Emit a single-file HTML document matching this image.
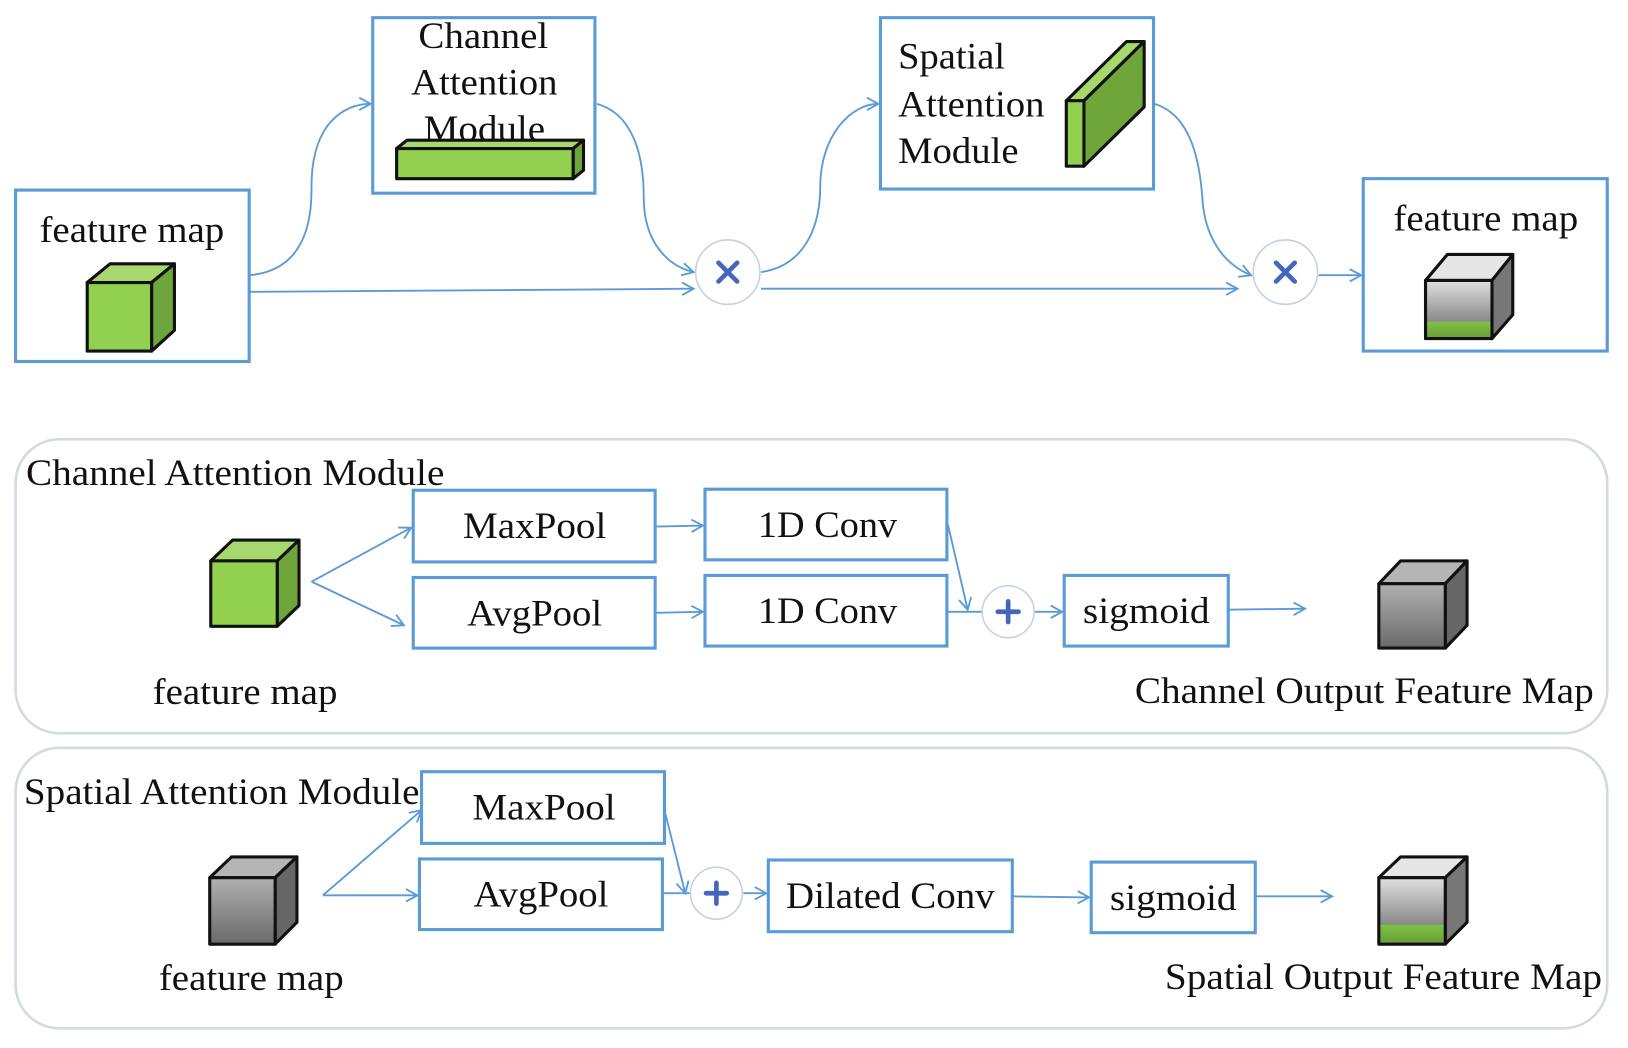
<!DOCTYPE html>
<html><head><meta charset="utf-8"><style>
html,body{margin:0;padding:0;background:#fff;}
svg{display:block;}
text{font-family:"Liberation Serif",serif;fill:#111;}
</style></head><body>
<svg width="1628" height="1048" viewBox="0 0 1568 1009" preserveAspectRatio="none" xmlns="http://www.w3.org/2000/svg">
<defs>
<marker id="a" markerWidth="14" markerHeight="14" refX="12" refY="7" orient="auto" markerUnits="userSpaceOnUse">
<path d="M1,1 L12,7 L1,13" fill="none" stroke="#5b9bd5" stroke-width="1.8"/>
</marker>
<linearGradient id="gg" x1="0" y1="0" x2="0" y2="1"><stop offset="0" stop-color="#e0e0e0"/><stop offset="0.7" stop-color="#8a8a8a"/><stop offset="0.72" stop-color="#7cc242"/><stop offset="1" stop-color="#6a9a3a"/></linearGradient>
<linearGradient id="gr" x1="0" y1="0" x2="0" y2="1"><stop offset="0" stop-color="#b0b0b0"/><stop offset="1" stop-color="#6a6a6a"/></linearGradient>
</defs>
<g fill="none" stroke="#5b9bd5" stroke-width="3">
<rect x="15" y="183" width="225" height="165"/>
<rect x="359" y="17" width="214" height="169"/>
<rect x="848" y="17" width="263" height="165"/>
<rect x="1313" y="172" width="235" height="166"/>
<rect x="398" y="472" width="233" height="69"/>
<rect x="398" y="556" width="233" height="68"/>
<rect x="679" y="471" width="233" height="68"/>
<rect x="679" y="554" width="233" height="68"/>
<rect x="1025" y="554" width="158" height="68"/>
<rect x="406" y="743" width="234" height="69"/>
<rect x="404" y="827" width="234" height="68"/>
<rect x="740" y="828" width="235" height="69"/>
<rect x="1051" y="830" width="158" height="68"/>
</g>
<g fill="none" stroke="#d3dae3" stroke-width="2.5">
<rect x="15" y="423" width="1533" height="283" rx="42"/>
<rect x="15" y="720" width="1533" height="270" rx="42"/>
</g>
<g fill="none" stroke="#5b9bd5" stroke-width="1.8" marker-end="url(#a)">
<path d="M240,265 C300,260 300,200 300,180 C300,120 330,100 357,100"/>
<path d="M240,281 L668,278"/>
<path d="M575,100 C610,110 620,150 620,190 C620,230 640,255 668,262"/>
<path d="M733,262 C780,255 790,210 790,180 C790,130 820,100 846,100"/>
<path d="M733,278 L1192,278"/>
<path d="M1112,100 C1145,110 1155,150 1158,190 C1160,230 1180,255 1205,265"/>
<path d="M1270,265 L1311,265"/>
<path d="M300,560 L396,508"/>
<path d="M300,560 L389,602"/>
<path d="M632,507 L677,506"/>
<path d="M632,590 L677,589"/>
<path d="M913,505 L932,587"/>
<path d="M997,589 L1023,589"/>
<path d="M1184,587 L1257,586"/>
<path d="M311,862 L406,780"/>
<path d="M311,862 L402,862"/>
<path d="M641,784 L660,860"/>
<path d="M716,860 L738,860"/>
<path d="M976,863 L1049,864"/>
<path d="M1210,863 L1283,863"/>
</g>
<g stroke="#5b9bd5" stroke-width="1.8"><line x1="913" y1="589" x2="946" y2="589"/><line x1="639" y1="860" x2="665" y2="860"/></g>
<g fill="#fff" stroke="#c5cfe4" stroke-width="1.5">
<circle cx="701" cy="262" r="31"/><circle cx="1238" cy="262" r="31"/>
<circle cx="971" cy="589" r="25"/><circle cx="690" cy="860" r="25"/>
</g>
<g stroke="#4466bb" stroke-width="4.5" stroke-linecap="round">
<path d="M692,253 L710,271 M710,253 L692,271"/>
<path d="M1229,253 L1247,271 M1247,253 L1229,271"/>
<path d="M961,589 L981,589 M971,579 L971,599"/>
<path d="M680,860 L700,860 M690,850 L690,870"/>
</g>
<g stroke="#111" stroke-width="3" stroke-linejoin="round">
<polygon points="84,272 106,254 168,254 146,272" fill="#a6d86e"/>
<polygon points="146,272 168,254 168,318 146,338" fill="#6fa63b"/>
<rect x="84" y="272" width="62" height="66" fill="#92d050"/>
<polygon points="382,143 392,135 562,135 552,143" fill="#a6d86e"/>
<polygon points="552,143 562,135 562,164 552,172" fill="#6fa63b"/>
<rect x="382" y="143" width="170" height="29" fill="#92d050"/>
<polygon points="1027,97 1085,40 1102,40 1044,97" fill="#a6d86e"/>
<polygon points="1044,97 1102,40 1102,103 1044,160" fill="#6fa63b"/>
<rect x="1027" y="97" width="17" height="63" fill="#92d050"/>
<polygon points="1373,270 1394,245 1457,245 1437,270" fill="#e6e6e6"/>
<polygon points="1437,270 1457,245 1457,303 1437,326" fill="#777"/>
<rect x="1373" y="270" width="64" height="56" fill="url(#gg)"/>
<polygon points="203,540 224,520 288,520 267,540" fill="#a6d86e"/>
<polygon points="267,540 288,520 288,583 267,603" fill="#6fa63b"/>
<rect x="203" y="540" width="64" height="63" fill="#92d050"/>
<polygon points="1328,562 1349,540 1413,540 1392,562" fill="#b5b5b5"/>
<polygon points="1392,562 1413,540 1413,602 1392,624" fill="#666"/>
<rect x="1328" y="562" width="64" height="62" fill="url(#gr)"/>
<polygon points="202,845 223,825 286,825 265,845" fill="#b5b5b5"/>
<polygon points="265,845 286,825 286,888 265,909" fill="#666"/>
<rect x="202" y="845" width="63" height="64" fill="url(#gr)"/>
<polygon points="1328,845 1349,825 1413,825 1392,845" fill="#e6e6e6"/>
<polygon points="1392,845 1413,825 1413,888 1392,909" fill="#777"/>
<rect x="1328" y="845" width="64" height="64" fill="url(#gg)"/>
</g>
<g font-size="36">
<text x="38" y="233" textLength="178" lengthAdjust="spacingAndGlyphs">feature map</text>
<text x="403" y="46" textLength="125" lengthAdjust="spacingAndGlyphs">Channel</text>
<text x="396" y="91" textLength="141" lengthAdjust="spacingAndGlyphs">Attention</text>
<text x="408" y="136" textLength="117" lengthAdjust="spacingAndGlyphs">Module</text>
<text x="865" y="66" textLength="103" lengthAdjust="spacingAndGlyphs">Spatial</text>
<text x="865" y="112" textLength="141" lengthAdjust="spacingAndGlyphs">Attention</text>
<text x="865" y="157" textLength="116" lengthAdjust="spacingAndGlyphs">Module</text>
<text x="1342" y="222" textLength="178" lengthAdjust="spacingAndGlyphs">feature map</text>
<text x="25" y="467" textLength="403" lengthAdjust="spacingAndGlyphs">Channel Attention Module</text>
<text x="147" y="678" textLength="178" lengthAdjust="spacingAndGlyphs">feature map</text>
<text x="446" y="518" textLength="138" lengthAdjust="spacingAndGlyphs">MaxPool</text>
<text x="450" y="602" textLength="130" lengthAdjust="spacingAndGlyphs">AvgPool</text>
<text x="730" y="517" textLength="134" lengthAdjust="spacingAndGlyphs">1D Conv</text>
<text x="730" y="600" textLength="134" lengthAdjust="spacingAndGlyphs">1D Conv</text>
<text x="1043" y="600" textLength="122" lengthAdjust="spacingAndGlyphs">sigmoid</text>
<text x="1093" y="677" textLength="442" lengthAdjust="spacingAndGlyphs">Channel Output Feature Map</text>
<text x="23" y="774" textLength="381" lengthAdjust="spacingAndGlyphs">Spatial Attention Module</text>
<text x="153" y="953" textLength="178" lengthAdjust="spacingAndGlyphs">feature map</text>
<text x="455" y="789" textLength="138" lengthAdjust="spacingAndGlyphs">MaxPool</text>
<text x="456" y="873" textLength="130" lengthAdjust="spacingAndGlyphs">AvgPool</text>
<text x="757" y="874" textLength="201" lengthAdjust="spacingAndGlyphs">Dilated Conv</text>
<text x="1069" y="876" textLength="122" lengthAdjust="spacingAndGlyphs">sigmoid</text>
<text x="1122" y="952" textLength="421" lengthAdjust="spacingAndGlyphs">Spatial Output Feature Map</text>
</g>
</svg>
</body></html>
